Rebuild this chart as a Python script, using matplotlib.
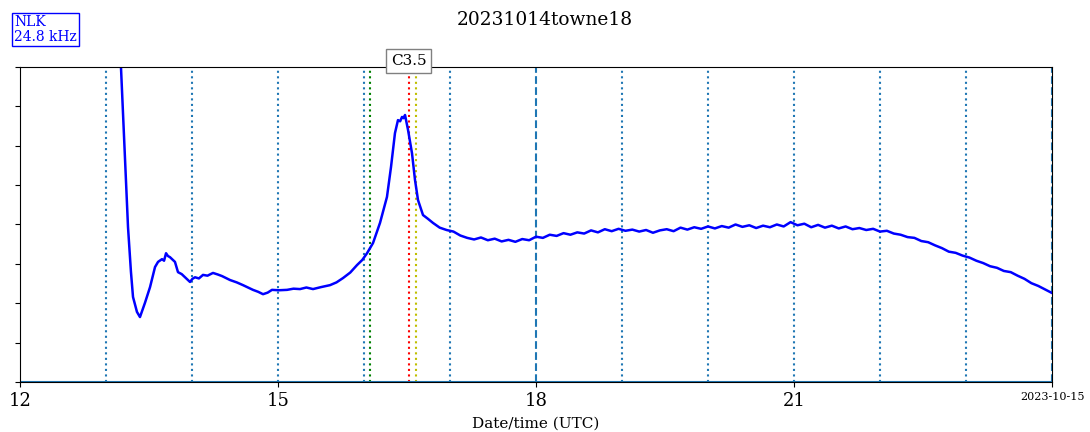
import matplotlib
matplotlib.use("Agg")
import matplotlib.pyplot as plt

plt.rcParams['font.family'] = ['DejaVu Serif']

# --- data (hours UTC on 2023-10-14, relative amplitude) ---
hours = [13.151, 13.174, 13.221, 13.256, 13.290, 13.314, 13.360, 13.395, 13.453, 13.512,
         13.570, 13.605, 13.651, 13.675, 13.698, 13.720, 13.744, 13.802, 13.837, 13.880,
         13.919, 13.977, 14.005, 14.035, 14.080, 14.128, 14.180, 14.244, 14.300, 14.349,
         14.442, 14.520, 14.593, 14.650, 14.709, 14.770, 14.826, 14.880, 14.930, 15.010,
         15.105, 15.180, 15.256, 15.330, 15.407, 15.500, 15.605, 15.680, 15.756, 15.840,
         15.919, 15.980, 16.035, 16.105, 16.186, 16.267, 16.314, 16.360, 16.395, 16.420,
         16.442, 16.460, 16.477, 16.512, 16.558, 16.593, 16.628, 16.686, 16.740, 16.802,
         16.88, 16.96, 17.04, 17.12, 17.20, 17.28, 17.36, 17.44, 17.52, 17.60,
         17.68, 17.76, 17.84, 17.92, 18.00, 18.08, 18.16, 18.24, 18.32, 18.40,
         18.48, 18.56, 18.64, 18.72, 18.80, 18.88, 18.96, 19.04, 19.12, 19.20,
         19.28, 19.36, 19.44, 19.52, 19.60, 19.68, 19.76, 19.84, 19.92, 20.00,
         20.08, 20.16, 20.24, 20.32, 20.40, 20.48, 20.56, 20.64, 20.72, 20.80,
         20.88, 20.96, 21.04, 21.12, 21.20, 21.28, 21.36, 21.44, 21.52, 21.60,
         21.68, 21.76, 21.84, 21.92, 22.00, 22.08, 22.16, 22.24, 22.32, 22.40,
         22.48, 22.56, 22.64, 22.72, 22.80, 22.88, 22.96, 23.04, 23.12, 23.20,
         23.28, 23.36, 23.44, 23.52, 23.60, 23.68, 23.76, 23.84, 23.92, 24.00]
amplitude = [8.68, 8.00, 5.63, 3.93, 2.80, 2.16, 1.78, 1.65, 2.01, 2.41,
             2.92, 3.05, 3.12, 3.08, 3.27, 3.20, 3.17, 3.05, 2.79, 2.74,
             2.66, 2.54, 2.62, 2.66, 2.63, 2.72, 2.70, 2.77, 2.73, 2.69,
             2.59, 2.53, 2.46, 2.40, 2.34, 2.29, 2.23, 2.27, 2.34, 2.33,
             2.34, 2.37, 2.36, 2.40, 2.36, 2.41, 2.46, 2.53, 2.64, 2.78,
             2.97, 3.10, 3.27, 3.53, 4.04, 4.70, 5.46, 6.32, 6.65, 6.62,
             6.73, 6.70, 6.78, 6.40, 5.81, 5.13, 4.62, 4.24, 4.15, 4.04,
             3.92, 3.86, 3.82, 3.72, 3.66, 3.62, 3.67, 3.60, 3.64, 3.57,
             3.61, 3.56, 3.63, 3.60, 3.69, 3.66, 3.74, 3.71, 3.78, 3.74,
             3.80, 3.77, 3.85, 3.80, 3.88, 3.83, 3.89, 3.84, 3.87, 3.82,
             3.86, 3.79, 3.85, 3.88, 3.83, 3.92, 3.87, 3.93, 3.89, 3.95,
             3.90, 3.96, 3.92, 4.00, 3.94, 3.98, 3.91, 3.97, 3.93, 4.00,
             3.95, 4.06, 3.98, 4.02, 3.93, 3.99, 3.92, 3.97, 3.90, 3.95,
             3.88, 3.91, 3.86, 3.89, 3.82, 3.84, 3.77, 3.74, 3.68, 3.66,
             3.58, 3.55, 3.47, 3.40, 3.31, 3.28, 3.21, 3.16, 3.08, 3.02,
             2.94, 2.90, 2.82, 2.79, 2.70, 2.62, 2.51, 2.44, 2.35, 2.26]

hour_lines = [13, 14, 15, 16, 17, 19, 20, 21, 22, 23]
day_lines = [18, 24]
flare_start, flare_peak, flare_end = 16.07, 16.52, 16.605
flare_class = "C3.5"
station = "NLK\n24.8 kHz"
title = "20231014towne18"
xtick_pos = [12, 15, 18, 21, 24]
xtick_lab = ["12", "15", "18", "21", "2023-10-15"]

fig = plt.figure(figsize=(10.9, 4.32), dpi=100)
ax = fig.add_axes([0.01835, 0.1157, 0.9468, 0.7293])

for h in hour_lines:
    ax.axvline(h, color='#1f77b4', linestyle=':', linewidth=1.5)
for h in day_lines:
    ax.axvline(h, color='#1f77b4', linestyle='--', linewidth=1.5)
ax.axvline(flare_start, color='green', linestyle=':', linewidth=1.5)
ax.axvline(flare_peak, color='red', linestyle=':', linewidth=1.5)
ax.axvline(flare_end, color='y', linestyle=':', linewidth=1.5)
ax.axhline(0, color='#1f77b4', linewidth=1.5)

ax.plot(hours, amplitude, color='blue', linewidth=1.8)

ax.set_xlim(12, 24)
ax.set_ylim(0, 8)
ax.set_yticks(range(0, 9))
ax.set_yticklabels([])
ax.set_xticks(xtick_pos)
ax.set_xticklabels(xtick_lab)
for lab in ax.get_xticklabels():
    lab.set_fontsize(13)
ax.get_xticklabels()[-1].set_fontsize(8)
ax.set_xlabel("Date/time (UTC)", fontsize=11, labelpad=5)

ax.text(flare_peak, 8.15, flare_class, ha='center', va='center', fontsize=11,
        bbox=dict(boxstyle='square,pad=0.3', facecolor='white', edgecolor='gray'),
        clip_on=False)

fig.text(0.5, 0.953, title, ha='center', va='center', fontsize=13.4)
fig.text(0.013, 0.932, station, ha='left', va='center', fontsize=10, color='blue',
         linespacing=1.05,
         bbox=dict(boxstyle='square,pad=0.15', facecolor='white', edgecolor='blue'))

fig.savefig("out.png", dpi=100)
